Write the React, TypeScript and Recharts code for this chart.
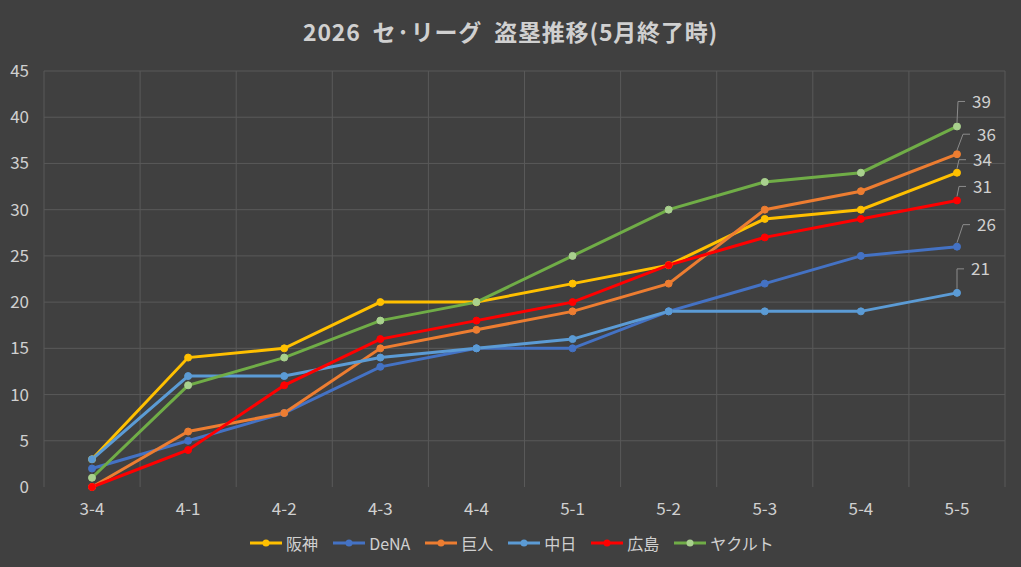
import React from 'react';
import { LineChart, Line, XAxis, YAxis, CartesianGrid, Legend, LabelList } from 'recharts';

document.body.style.margin = '0';

const categories = ['3-4', '4-1', '4-2', '4-3', '4-4', '5-1', '5-2', '5-3', '5-4', '5-5'];

const hanshin = [3, 14, 15, 20, 20, 22, 24, 29, 30, 34];
const dena = [2, 5, 8, 13, 15, 15, 19, 22, 25, 26];
const kyojin = [0, 6, 8, 15, 17, 19, 22, 30, 32, 36];
const chunichi = [3, 12, 12, 14, 15, 16, 19, 19, 19, 21];
const hiroshima = [0, 4, 11, 16, 18, 20, 24, 27, 29, 31];
const yakult = [1, 11, 14, 18, 20, 25, 30, 33, 34, 39];

const yTicks = [0, 5, 10, 15, 20, 25, 30, 35, 40, 45];
const yMax = 45;

const series = [
  { key: 'hanshin', name: '阪神', values: hanshin, color: '#FFC000', dot: '#FFC000' },
  { key: 'dena', name: 'DeNA', values: dena, color: '#4472C4', dot: '#4472C4' },
  { key: 'kyojin', name: '巨人', values: kyojin, color: '#ED7D31', dot: '#ED7D31' },
  { key: 'chunichi', name: '中日', values: chunichi, color: '#5B9BD5', dot: '#5B9BD5' },
  { key: 'hiroshima', name: '広島', values: hiroshima, color: '#FF0000', dot: '#FF0000' },
  { key: 'yakult', name: 'ヤクルト', values: yakult, color: '#70AD47', dot: '#A9D18E' },
];

// leader-line corner offsets for the end labels
const labelOffsets: Record<string, [number, number]> = {
  yakult: [1, -25],
  kyojin: [6, -20],
  hanshin: [2, -13],
  hiroshima: [2, -14],
  dena: [6, -22],
  chunichi: [0, -24],
};

const data = categories.map((c, i) => {
  const row: Record<string, string | number> = { name: c };
  series.forEach((s) => {
    row[s.key] = s.values[i];
  });
  return row;
});

const FONT = '"Noto Sans CJK JP", "Noto Sans", sans-serif';
const TEXT = '#d0d0d0';
const PAD = 48;

function EndLabel(props: any) {
  const { x, y, value, index, seriesKey } = props;
  if (index !== categories.length - 1) return null;
  const [dx, dy] = labelOffsets[seriesKey];
  const cx = x + dx;
  const cy = y + dy;
  return (
    <g>
      <polyline
        points={`${x},${y - 4} ${cx},${cy} ${cx + 7},${cy}`}
        fill="none"
        stroke="#8c8c8c"
        strokeWidth={1}
      />
      <text x={cx + 14} y={cy + 2} fill={TEXT} fontSize={17} fontFamily={FONT} dominantBaseline="middle">
        {value}
      </text>
    </g>
  );
}

function LegendContent() {
  return (
    <div style={{ display: 'flex', justifyContent: 'center', gap: 14, fontFamily: FONT, fontSize: 16, color: TEXT, paddingLeft: 18 }}>
      {series.map((s) => (
        <div key={s.key} style={{ display: 'flex', alignItems: 'center' }}>
          <svg width={34} height={10} style={{ marginRight: 3 }}>
            <line x1={1} y1={5} x2={33} y2={5} stroke={s.color} strokeWidth={3} />
            <circle cx={17} cy={5} r={3.5} fill={s.dot} />
          </svg>
          <span>{s.name}</span>
        </div>
      ))}
    </div>
  );
}

export default function App() {
  return (
    <div style={{ width: 1021, height: 567, background: '#404040', position: 'relative', fontFamily: FONT }}>
      <div
        style={{
          position: 'absolute',
          top: 14,
          left: 0,
          width: 1021,
          textAlign: 'center',
          fontSize: 23,
          fontWeight: 'bold',
          letterSpacing: 0.8,
          color: TEXT,
          whiteSpace: 'pre',
        }}
      >
        {'2026  セ·リーグ  盗塁推移(5月終了時)'}
      </div>
      <LineChart width={1021} height={567} data={data} margin={{ top: 71, right: 16, left: 0, bottom: 8 }}>
        <CartesianGrid
          stroke="#595959"
          strokeWidth={1}
          horizontalCoordinatesGenerator={({ offset }: any) =>
            yTicks.filter((t) => t > 0).map((t) => offset.top + offset.height * (1 - t / yMax))
          }
          verticalCoordinatesGenerator={({ offset }: any) =>
            categories.concat(['']).map((_, i) => offset.left + (i * offset.width) / categories.length)
          }
        />
        <XAxis
          dataKey="name"
          axisLine={false}
          tickLine={false}
          padding={{ left: PAD, right: PAD }}
          tick={{ fill: TEXT, fontSize: 17, fontFamily: FONT }}
          height={44}
          tickMargin={10}
          interval={0}
        />
        <YAxis
          domain={[0, yMax]}
          ticks={yTicks}
          axisLine={false}
          tickLine={false}
          tickSize={0}
          tickMargin={15}
          width={44}
          tick={{ fill: TEXT, fontSize: 17, fontFamily: FONT }}
          interval={0}
        />
        <Legend verticalAlign="bottom" height={28} content={<LegendContent />} />
        {series.map((s) => (
          <Line
            key={s.key}
            type="linear"
            dataKey={s.key}
            name={s.name}
            stroke={s.color}
            strokeWidth={3}
            dot={{ r: 3.5, fill: s.dot, stroke: s.dot, strokeWidth: 1 }}
            activeDot={false}
            isAnimationActive={false}
          >
            <LabelList dataKey={s.key} content={(p: any) => <EndLabel {...p} seriesKey={s.key} />} />
          </Line>
        ))}
      </LineChart>
    </div>
  );
}
